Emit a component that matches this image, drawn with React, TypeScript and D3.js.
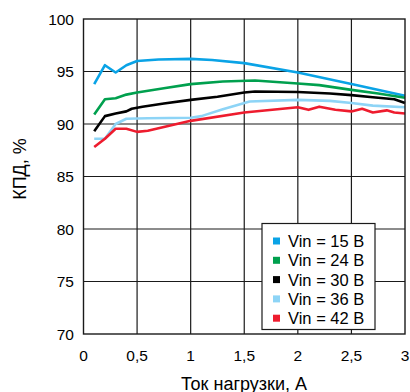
import React, { useEffect, useRef } from "react";
import * as d3 from "d3";

// Load current, A / efficiency, %
const load15 = [0.1, 0.2, 0.3, 0.4, 0.5, 0.7, 1.0, 1.2, 1.5, 2.0, 2.5, 3.0];
const eff15 = [93.8, 95.6, 94.9, 95.6, 96.0, 96.15, 96.2, 96.1, 95.8, 94.9, 93.8, 92.7];

const load24 = [0.1, 0.2, 0.3, 0.4, 0.5, 0.75, 1.0, 1.3, 1.6, 1.8, 2.0, 2.2, 2.5, 2.75, 3.0];
const eff24 = [90.9, 92.35, 92.45, 92.8, 93.0, 93.4, 93.8, 94.05, 94.15, 94.0, 93.85, 93.7, 93.25, 92.9, 92.5];

const load30 = [0.1, 0.2, 0.3, 0.4, 0.45, 0.55, 0.75, 1.0, 1.25, 1.5, 1.6, 2.0, 2.3, 2.5, 2.7, 2.9, 3.0];
const eff30 = [89.3, 90.75, 91.0, 91.2, 91.45, 91.65, 91.95, 92.3, 92.6, 93.0, 93.1, 93.05, 92.9, 92.75, 92.55, 92.35, 92.0];

const load36 = [0.1, 0.2, 0.3, 0.4, 0.6, 1.0, 1.1, 1.3, 1.55, 2.0, 2.3, 2.5, 2.7, 3.0];
const eff36 = [88.6, 88.6, 90.0, 90.5, 90.55, 90.6, 90.75, 91.4, 92.15, 92.3, 92.2, 92.0, 91.75, 91.6];

const load42 = [0.1, 0.2, 0.3, 0.4, 0.5, 0.6, 1.0, 1.5, 2.0, 2.1, 2.2, 2.35, 2.5, 2.6, 2.7, 2.83, 2.9, 3.0];
const eff42 = [87.8, 88.6, 89.55, 89.55, 89.25, 89.35, 90.3, 91.1, 91.6, 91.35, 91.65, 91.35, 91.2, 91.45, 91.1, 91.3, 91.1, 91.0];

const seriesNames = ["Vin = 15 В", "Vin = 24 В", "Vin = 30 В", "Vin = 36 В", "Vin = 42 В"];
const seriesColors = ["#0aa3e6", "#00a04e", "#000000", "#8dd4f6", "#ee1c2e"];

const xTicks = [0, 0.5, 1, 1.5, 2, 2.5, 3];
const yTicks = [70, 75, 80, 85, 90, 95, 100];

const App: React.FC = () => {
  const svgRef = useRef<SVGSVGElement>(null);

  useEffect(() => {
    if (!svgRef.current) return;
    const svg = d3.select(svgRef.current);
    svg.selectAll("*").remove();

    const font = "'Liberation Sans', Arial, sans-serif";
    const left = 83.5;
    const right = 405;
    const top = 19;
    const bottom = 334;

    const x = d3.scaleLinear().domain([0, 3]).range([left, right]);
    const y = d3.scaleLinear().domain([70, 100]).range([bottom, top]);

    // grid
    const grid = svg.append("g").attr("stroke", "#1a1a1a").attr("stroke-width", 1.2);
    grid
      .selectAll("line.v")
      .data(xTicks.slice(1, -1))
      .enter()
      .append("line")
      .attr("x1", (d) => x(d))
      .attr("x2", (d) => x(d))
      .attr("y1", top)
      .attr("y2", bottom);
    grid
      .selectAll("line.h")
      .data(yTicks.slice(1, -1))
      .enter()
      .append("line")
      .attr("x1", left)
      .attr("x2", right)
      .attr("y1", (d) => y(d))
      .attr("y2", (d) => y(d));

    // series
    const loads = [load15, load24, load30, load36, load42];
    const effs = [eff15, eff24, eff30, eff36, eff42];
    const line = d3
      .line<[number, number]>()
      .x((d) => x(d[0]))
      .y((d) => y(d[1]));

    loads.forEach((ld, i) => {
      const pts = ld.map((v, j) => [v, effs[i][j]] as [number, number]);
      svg
        .append("path")
        .attr("d", line(pts) || "")
        .attr("fill", "none")
        .attr("stroke", seriesColors[i])
        .attr("stroke-width", 2.6)
        .attr("stroke-linejoin", "round");
    });

    // frame
    svg
      .append("rect")
      .attr("x", left)
      .attr("y", top)
      .attr("width", right - left)
      .attr("height", bottom - top)
      .attr("fill", "none")
      .attr("stroke", "#1a1a1a")
      .attr("stroke-width", 1.4);

    // tick labels
    svg
      .selectAll("text.yt")
      .data(yTicks)
      .enter()
      .append("text")
      .attr("x", 74)
      .attr("y", (d) => y(d) + 5.5)
      .attr("text-anchor", "end")
      .style("font-family", font)
      .style("font-size", "15.5px")
      .text((d) => d);

    svg
      .selectAll("text.xt")
      .data(xTicks)
      .enter()
      .append("text")
      .attr("x", (d) => x(d))
      .attr("y", 360.5)
      .attr("text-anchor", "middle")
      .style("font-family", font)
      .style("font-size", "15.5px")
      .text((d) => String(d).replace(".", ","));

    // axis titles
    svg
      .append("text")
      .attr("x", 244)
      .attr("y", 389.5)
      .attr("text-anchor", "middle")
      .style("font-family", font)
      .style("font-size", "18px")
      .text("Ток нагрузки, А");

    svg
      .append("text")
      .attr("transform", "translate(26,169) rotate(-90)")
      .attr("text-anchor", "middle")
      .style("font-family", font)
      .style("font-size", "18px")
      .text("КПД, %");

    // legend
    const lg = svg.append("g");
    lg.append("rect")
      .attr("x", 262)
      .attr("y", 223.5)
      .attr("width", 113)
      .attr("height", 106)
      .attr("fill", "#fff")
      .attr("stroke", "#1a1a1a")
      .attr("stroke-width", 1.2);
    seriesNames.forEach((name, i) => {
      const cy = 241 + i * 19.3;
      lg.append("rect")
        .attr("x", 273)
        .attr("y", cy - 3.5)
        .attr("width", 7)
        .attr("height", 7)
        .attr("fill", seriesColors[i]);
      lg.append("text")
        .attr("x", 288)
        .attr("y", cy + 6)
        .style("font-family", font)
        .style("font-size", "16.5px")
        .text(name);
    });
  }, []);

  return (
    <svg
      ref={svgRef}
      width={410}
      height={392}
      style={{ position: "absolute", left: 0, top: 0, background: "#fff" }}
    />
  );
};

export default App;
